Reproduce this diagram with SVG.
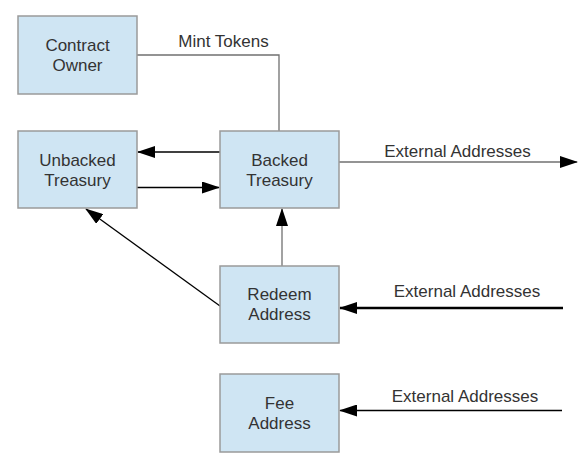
<svg xmlns="http://www.w3.org/2000/svg" width="586" height="463" viewBox="0 0 586 463">
<style>
.box{fill:#cfe5f3;stroke:#9a9a9a;stroke-width:1.5}
.t{font-family:"Liberation Sans",Arial,sans-serif;font-size:17px;fill:#333;text-anchor:middle}
.g{fill:none;stroke:#707070;stroke-width:1.3}
.k{fill:none;stroke:#000;stroke-width:1.3}
</style>
<defs>
<marker id="ah" markerWidth="18" markerHeight="12" refX="17" refY="6" orient="auto" markerUnits="userSpaceOnUse">
<path d="M0,0 L18,6 L0,12 Z" fill="#000"/>
</marker>
</defs>
<rect width="586" height="463" fill="#fff"/>
<g id="connectors">
<path class="g" d="M137,55 H279 V131"/>
<text class="t" x="223.5" y="47">Mint Tokens</text>
<path class="k" d="M220,152 H138" marker-end="url(#ah)"/>
<path class="k" d="M137,187.5 H219" marker-end="url(#ah)"/>
<path class="g" d="M339,162 H577" marker-end="url(#ah)"/>
<text class="t" x="457.5" y="157">External Addresses</text>
<path class="g" d="M282,266 V209" marker-end="url(#ah)"/>
<path class="k" d="M220,306 L86,209" marker-end="url(#ah)"/>
<path class="k" style="stroke-width:2.5" d="M563,308 H340" marker-end="url(#ah)"/>
<text class="t" x="467" y="297">External Addresses</text>
<path class="k" d="M562,410.5 H340" marker-end="url(#ah)"/>
<text class="t" x="465" y="402">External Addresses</text>
</g>
<g id="contract-owner"><rect class="box" x="18" y="16" width="119" height="78"/><text class="t" x="77.5" y="51">Contract</text><text class="t" x="77.5" y="71">Owner</text></g>
<g id="unbacked-treasury"><rect class="box" x="18" y="131" width="119" height="77"/><text class="t" x="77.5" y="166">Unbacked</text><text class="t" x="77.5" y="186">Treasury</text></g>
<g id="backed-treasury"><rect class="box" x="220" y="131" width="119" height="77"/><text class="t" x="279.5" y="166">Backed</text><text class="t" x="279.5" y="186">Treasury</text></g>
<g id="redeem-address"><rect class="box" x="220" y="266" width="119" height="77"/><text class="t" x="279.5" y="300">Redeem</text><text class="t" x="279.5" y="320">Address</text></g>
<g id="fee-address"><rect class="box" x="220" y="374" width="119" height="78"/><text class="t" x="279.5" y="409">Fee</text><text class="t" x="279.5" y="429">Address</text></g>
</svg>
